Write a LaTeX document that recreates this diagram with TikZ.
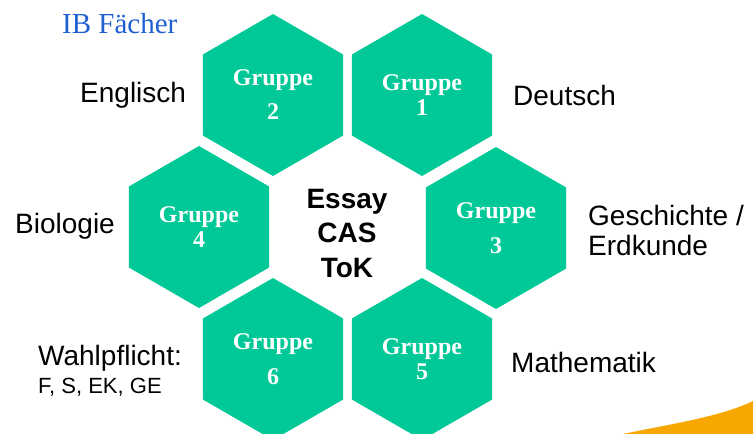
\documentclass[tikz,border=0pt]{standalone}
\usepackage{fontspec}
\setmainfont{Liberation Serif}
\setsansfont{Liberation Sans}
\usepackage{xcolor}
\usepackage{tikz}
\usetikzlibrary{shapes.geometric, positioning}
\definecolor{hexgreen}{RGB}{0,201,151}
\definecolor{titleblue}{RGB}{30,95,210}
\definecolor{swoosh}{RGB}{248,166,0}
\tikzstyle{hexa} = [regular polygon, regular polygon sides=6, shape border rotate=90, minimum size=162pt, inner sep=0pt, fill=hexgreen, text=white, align=center, font=\fontsize{24}{25}\selectfont\bfseries]
\tikzstyle{subject} = [anchor=base west, inner sep=0pt, font=\fontsize{28}{30}\selectfont\sffamily]

\begin{document}
\begin{tikzpicture}[x=1pt, y=-1pt]
\useasboundingbox (0,0) rectangle (753,434);
\clip (0,0) rectangle (753,434);

% Title
\node[anchor=base west, inner sep=0pt, text=titleblue, font=\fontsize{29}{30}\selectfont] (title) at (62,33) {IB Fächer};

% Orange corner
\fill[swoosh] (623,434) .. controls (670,424) and (720,417) .. (753,401) -- (753,434) -- cycle;

% Hexagons
\node[hexa] (g2) at (273,95) {Gruppe\\[9pt]2};
\node[hexa] (g1) at (422,95) {Gruppe\\1};
\node[hexa] (g4) at (199,227) {Gruppe\\4};
\node[hexa] (g3) at (496,228) {Gruppe\\[10pt]3};
\node[hexa] (g6) at (273,359) {Gruppe\\[10pt]6};
\node[hexa] (g5) at (422,359) {Gruppe\\5};

% Centre
\node[inner sep=0pt, align=center, font=\fontsize{28}{34.5}\selectfont\sffamily\bfseries] (core) at (347,233.5) {Essay\\CAS\\ToK};

% Subjects
\node[subject] (englisch) at (80,102) {Englisch};
\node[subject] (deutsch) at (513,105) {Deutsch};
\node[subject] (biologie) at (15,233) {Biologie};
\node[subject] (geschichte) at (588,225) {Geschichte /};
\node[subject] (erdkunde) at (588,255) {Erdkunde};
\node[subject] (wahl) at (38,365) {Wahlpflicht:};
\node[subject, font=\fontsize{22}{24}\selectfont\sffamily] (wahlfach) at (38,393) {F, S, EK, GE};
\node[subject] (mathe) at (511,372) {Mathematik};
\end{tikzpicture}
\end{document}
